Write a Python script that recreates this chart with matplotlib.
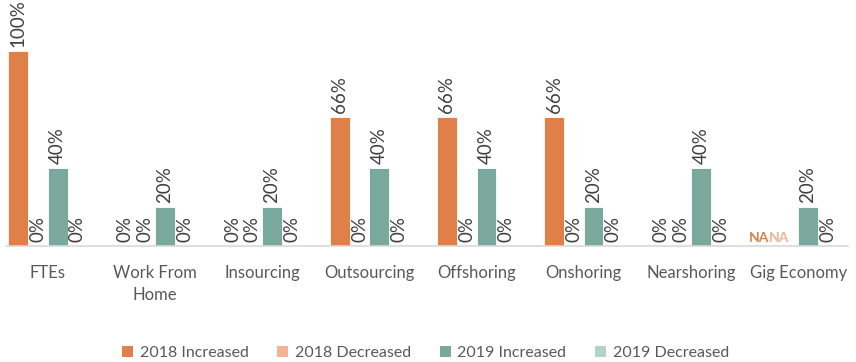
import numpy as np
import matplotlib
matplotlib.use("Agg")
import matplotlib.pyplot as plt
from matplotlib.patches import Patch

plt.rcParams['font.family'] = ['Lato', 'DejaVu Sans']

categories = ["FTEs", "Work From\nHome", "Insourcing", "Outsourcing",
              "Offshoring", "Onshoring", "Nearshoring", "Gig Economy"]
series_names = ["2018 Increased", "2018 Decreased", "2019 Increased", "2019 Decreased"]
inc_2018 = [100, 0, 0, 66, 66, 66, 0, np.nan]
dec_2018 = [0, 0, 0, 0, 0, 0, 0, np.nan]
inc_2019 = [40, 20, 20, 40, 40, 20, 40, 20]
dec_2019 = [0, 0, 0, 0, 0, 0, 0, 0]
series_values = [inc_2018, dec_2018, inc_2019, dec_2019]
colors = ["#DF8048", "#F0B393", "#7AA89C", "#B3D2CA"]

W, H = 856, 362
fig = plt.figure(figsize=(W / 100, H / 100), dpi=100)
# plot area: x from 6px to 848px, y baseline at 246px, 100% at 51px
ax = fig.add_axes([6 / W, (H - 246) / H, (848 - 6) / W, 195 / H])
ax.set_xlim(-0.39, 7.465)
ax.set_ylim(0, 100)

x = np.arange(len(categories))
bw = 0.184
text_col = "#595959"
for i, (vals, col) in enumerate(zip(series_values, colors)):
    xs = x + (i - 1.5) * bw
    v = np.array(vals, dtype=float)
    ax.bar(xs, np.nan_to_num(v), width=bw, color=col,
           edgecolor="white", linewidth=0.6, zorder=2)
    for xi, val in zip(xs, v):
        if np.isnan(val):
            ax.text(xi + 0.01, 1.0, "NA", color=col, fontsize=10,
                    fontweight="bold", ha="right", va="bottom")
        else:
            ax.annotate(f"{val:.0f}%", (xi, val), xytext=(0, 3),
                        textcoords="offset points", rotation=90,
                        ha="center", va="bottom", fontsize=13.5,
                        color="#404040", annotation_clip=False)

for s in ["top", "right", "left"]:
    ax.spines[s].set_visible(False)
ax.spines["bottom"].set_color("#D9D9D9")
ax.spines["bottom"].set_linewidth(1.2)
ax.set_yticks([])
ax.set_xticks(x)
ax.set_xticklabels(categories, fontsize=12, color=text_col, linespacing=1.4)
ax.tick_params(axis="x", length=0, pad=14)

handles = [Patch(facecolor=c, edgecolor="none") for c in colors]
fig.legend(handles, series_names, loc="center", bbox_to_anchor=(0.497, 9 / H),
           ncol=4, frameon=False, fontsize=11.5, labelcolor=text_col,
           handlelength=0.7, handleheight=0.7, handletextpad=0.4,
           columnspacing=1.8)

fig.savefig("out.png", dpi=100)
